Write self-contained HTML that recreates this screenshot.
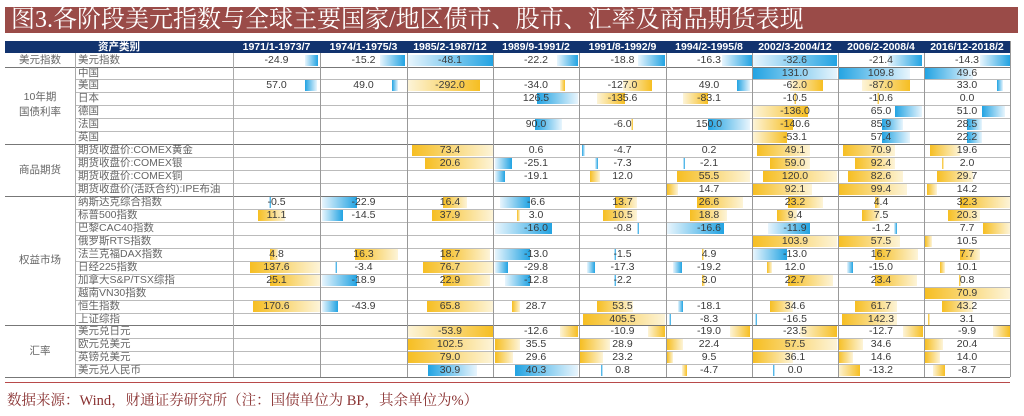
<!DOCTYPE html>
<html><head><meta charset="utf-8"><style>
body{margin:0;width:1024px;height:416px;background:#fff;position:relative;overflow:hidden;font-family:"Liberation Sans","Noto Sans CJK SC",sans-serif}
#title{position:absolute;left:5px;top:7px;width:1013px;height:26px;background:#9a4b48;color:#fff;font:24px/26px "Liberation Serif","Noto Serif CJK SC",serif;padding-left:6px;box-sizing:border-box;white-space:nowrap;overflow:hidden}
#hdr{position:absolute;left:5px;top:41px;width:1005px;height:12px;background:#12336e}
.h{position:absolute;top:41px;height:12px;line-height:12px;color:#fff;font-size:10.5px;text-align:center;font-weight:bold}
.b{position:absolute;height:11px}
.bR{background:linear-gradient(to right,#e8f5fd,#22a3e2)}
.bL{background:linear-gradient(to right,#22a3e2,#e8f5fd)}
.yR{background:linear-gradient(to right,#fdf4d8,#f6be22)}
.yL{background:linear-gradient(to right,#f6be22,#fdf4d8)}
.t{position:absolute;font-size:10.5px;line-height:13px;color:#3a3a3a;white-space:nowrap}
.c{text-align:center}
.hl{position:absolute;height:1px;background:#bbb}
.vl{position:absolute;width:1px;background:#999}
#foot{position:absolute;left:7px;top:389px;font:14.5px "Liberation Serif","Noto Serif CJK SC",serif;color:#8a3232;white-space:nowrap}
#fl{position:absolute;left:5px;top:382px;width:1005px;height:1px;background:#b84a4a}
</style></head><body>
<div id="title">图3.各阶段美元指数与全球主要国家/地区债市、股市、汇率及商品期货表现</div>
<div id="hdr"></div>
<div id="g"></div>
<div id="fl"></div>
<div id="foot">数据来源：Wind，财通证券研究所（注：国债单位为 BP，其余单位为%）</div>
<script>
var g=document.getElementById('g'),h='';
var X=[5,75,233,320,407,493,579,666,752,838,924,1010];
var T=53.5,R=12.95;
var hd=['1971/1-1973/7','1974/1-1975/3','1985/2-1987/12','1989/9-1991/2','1991/8-1992/9','1994/2-1995/8','2002/3-2004/12','2006/2-2008/4','2016/12-2018/2'];
h+='<div class="h" style="left:5px;width:228px">资产类别</div>';
for(var i=0;i<9;i++)h+='<div class="h" style="left:'+X[i+2]+'px;width:'+(X[i+3]-X[i+2])+'px">'+hd[i]+'</div>';
var bars=[[0,305,318,'bR'],[0,380,405,'bR'],[0,408,493,'bR'],[0,557,578,'bR'],[0,638,665,'bR'],[0,722,752,'bR'],[0,753,837,'bR'],[0,888,922,'bR'],[0,980,1010,'bR'],
[1,753,837,'bL'],[1,838,910,'bL'],[1,925,973,'bL'],
[2,305,317,'bL'],[2,392,398,'bL'],[2,408,480,'yR'],[2,560,565,'yR'],[2,623,652,'yR'],[2,737,750,'bL'],[2,790,823,'yR'],[2,862,910,'yR'],[2,997,1003,'bL'],
[3,537,578,'bL'],[3,597,625,'yR'],[3,683,708,'yR'],[3,794,796,'yR'],[3,877,879,'yR'],
[4,753,808,'yR'],[4,895,922,'bL'],[4,982,1005,'bL'],
[5,535,562,'bL'],[5,631,633,'yR'],[5,708,750,'bL'],[5,753,793,'yR'],[5,882,903,'bL'],[5,967,982,'bL'],
[6,753,787,'yR'],[6,882,910,'bL'],[6,967,982,'bL'],
[7,412,493,'yL'],[7,582,585,'bL'],[7,757,810,'yL'],[7,843,895,'yL'],[7,930,960,'yL'],
[8,425,493,'yL'],[8,495,512,'bR'],[8,595,598,'bR'],[8,683,684,'bR'],[8,770,810,'yL'],[8,855,895,'yL'],[8,942,944,'yL'],
[9,495,505,'bR'],[9,590,600,'yL'],[9,677,750,'yL'],[9,763,837,'yL'],[9,848,903,'yL'],[9,937,973,'yL'],
[10,667,678,'yL'],[10,753,812,'yL'],[10,838,907,'yL'],[10,927,937,'yL'],
[11,269,270,'bR'],[11,322,357,'bR'],[11,443,467,'yL'],[11,500,530,'bR'],[11,615,637,'yL'],[11,697,743,'yL'],[11,788,823,'yL'],[11,875,880,'yL'],[11,960,1010,'yL'],
[12,258,285,'yL'],[12,322,343,'bR'],[12,432,493,'yL'],[12,517,520,'yL'],[12,603,637,'yL'],[12,690,727,'yL'],[12,777,797,'yL'],[12,862,880,'yL'],[12,948,980,'yL'],
[13,495,552,'bR'],[13,637,639,'bR'],[13,667,724,'bR'],[13,768,810,'bR'],[13,894,897,'bR'],[13,983,1010,'yL'],
[14,753,837,'yL'],[14,838,900,'yL'],[14,925,932,'yL'],
[15,270,278,'yL'],[15,355,398,'yL'],[15,442,490,'yL'],[15,495,530,'bR'],[15,614,615,'bR'],[15,702,704,'yL'],[15,753,787,'bR'],[15,875,918,'yL'],[15,960,980,'yL'],
[16,250,320,'yL'],[16,335,337,'bR'],[16,423,493,'yL'],[16,495,508,'bR'],[16,587,595,'bR'],[16,673,682,'bR'],[16,767,772,'yL'],[16,847,853,'bR'],[16,940,945,'yL'],
[17,270,320,'yL'],[17,322,357,'bR'],[17,443,490,'yL'],[17,505,530,'bR'],[17,614,616,'bR'],[17,702,705,'yL'],[17,788,833,'yL'],[17,875,917,'yL'],[17,959,961,'yL'],
[18,925,1010,'yL'],
[19,253,320,'yL'],[19,322,338,'bR'],[19,427,493,'yL'],[19,512,520,'yL'],[19,597,633,'yL'],[19,678,683,'bR'],[19,770,793,'yL'],[19,855,897,'yL'],[19,942,973,'yL'],
[20,583,665,'yL'],[20,669,670,'bR'],[20,755,756,'bR'],[20,842,897,'yL'],[20,928,929,'yL'],
[21,408,493,'yR'],[21,560,578,'yR'],[21,648,665,'yR'],[21,730,750,'yR'],[21,800,837,'yR'],[21,903,923,'yR'],[21,993,1010,'yR'],
[22,408,493,'yL'],[22,495,520,'yL'],[22,580,610,'yL'],[22,667,683,'yL'],[22,753,837,'yL'],[22,838,863,'yL'],[22,925,943,'yL'],
[23,408,493,'yL'],[23,495,513,'yL'],[23,580,603,'yL'],[23,667,673,'yL'],[23,753,793,'yL'],[23,838,853,'yL'],[23,925,940,'yL'],
[24,428,477,'bL'],[24,515,578,'bL'],[24,601,603,'bL'],[24,682,687,'yR'],[24,773,774,'bL'],[24,838,860,'yR'],[24,933,945,'yR']];
bars.forEach(function(b){h+='<div class="b '+b[3]+'" style="left:'+b[1]+'px;width:'+Math.max(2,b[2]-b[1])+'px;top:'+(T+b[0]*R+1).toFixed(1)+'px"></div>';});
var lab=['美元指数','中国','美国','日本','德国','法国','英国','期货收盘价:COMEX黄金','期货收盘价:COMEX银','期货收盘价:COMEX铜','期货收盘价(活跃合约):IPE布油','纳斯达克综合指数','标普500指数','巴黎CAC40指数','俄罗斯RTS指数','法兰克福DAX指数','日经225指数','加拿大S&P/TSX综指','越南VN30指数','恒生指数','上证综指','美元兑日元','欧元兑美元','英镑兑美元','美元兑人民币'];
var D=['-24.9,-15.2,-48.1,-22.2,-18.8,-16.3,-32.6,-21.4,-14.3',',,,,,,131.0,109.8,49.6','57.0,49.0,-292.0,-34.0,-127.0,49.0,-62.0,-87.0,33.0',',,,126.5,-135.6,-83.1,-10.5,-10.6,0.0',',,,,,,-136.0,65.0,51.0',',,,90.0,-6.0,150.0,-140.6,85.9,28.5',',,,,,,-53.1,57.4,22.2',',,73.4,0.6,-4.7,0.2,49.1,70.9,19.6',',,20.6,-25.1,-7.3,-2.1,59.0,92.4,2.0',',,,-19.1,12.0,55.5,120.0,82.6,29.7',',,,,,14.7,92.1,99.4,14.2','-0.5,-22.9,16.4,-6.6,13.7,26.6,23.2,4.4,32.3','11.1,-14.5,37.9,3.0,10.5,18.8,9.4,7.5,20.3',',,,-16.0,-0.8,-16.6,-11.9,-1.2,7.7',',,,,,,103.9,57.5,10.5','4.8,16.3,18.7,-13.0,-1.5,4.9,-13.0,16.7,7.7','137.6,-3.4,76.7,-29.8,-17.3,-19.2,12.0,-15.0,10.1','25.1,-18.9,22.9,-12.8,-2.2,3.0,22.7,23.4,0.8',',,,,,,,,70.9','170.6,-43.9,65.8,28.7,53.5,-18.1,34.6,61.7,43.2',',,,,405.5,-8.3,-16.5,142.3,3.1',',,-53.9,-12.6,-10.9,-19.0,-23.5,-12.7,-9.9',',,102.5,35.5,28.9,22.4,57.5,34.6,20.4',',,79.0,29.6,23.2,9.5,36.1,14.6,14.0',',,30.9,40.3,0.8,-4.7,0.0,-13.2,-8.7'];
var grpEnd={0:1,6:1,10:1,20:1,24:1};
for(var r=0;r<25;r++){
 var y=T+r*R;
 h+='<div class="t" style="left:78px;top:'+y.toFixed(1)+'px;color:#666">'+lab[r]+'</div>';
 var v=D[r].split(',');
 for(var c=0;c<9;c++){if(v[c])h+='<div class="t c" style="left:'+X[c+2]+'px;width:'+(X[c+3]-X[c+2])+'px;top:'+y.toFixed(1)+'px">'+v[c]+'</div>';}
 var yb=(y+R).toFixed(1);
 if(grpEnd[r])h+='<div class="hl" style="left:5px;width:1005px;top:'+yb+'px;background:#777"></div>';
 else h+='<div class="hl" style="left:75px;width:935px;top:'+yb+'px"></div>';
}
var G=[[0,1,'美元指数'],[1,6,'10年期<br>国债利率'],[7,4,'商品期货'],[11,10,'权益市场'],[21,4,'汇率']];
G.forEach(function(q){h+='<div class="t c" style="left:5px;width:70px;line-height:15px;color:#666;top:'+(T+q[0]*R+q[1]*R/2-(q[2].indexOf('<br>')>0?15:7.5)).toFixed(1)+'px">'+q[2]+'</div>';});
var bot=T+25*R;
for(var i=1;i<11;i++)h+='<div class="vl" style="left:'+X[i]+'px;top:53px;height:'+(bot-53)+'px;'+(i<3?'background:#aaa':'')+'"></div>';
h+='<div class="vl" style="left:1010px;top:41px;height:'+(bot-41)+'px"></div>';
g.innerHTML=h;
</script>
</body></html>
